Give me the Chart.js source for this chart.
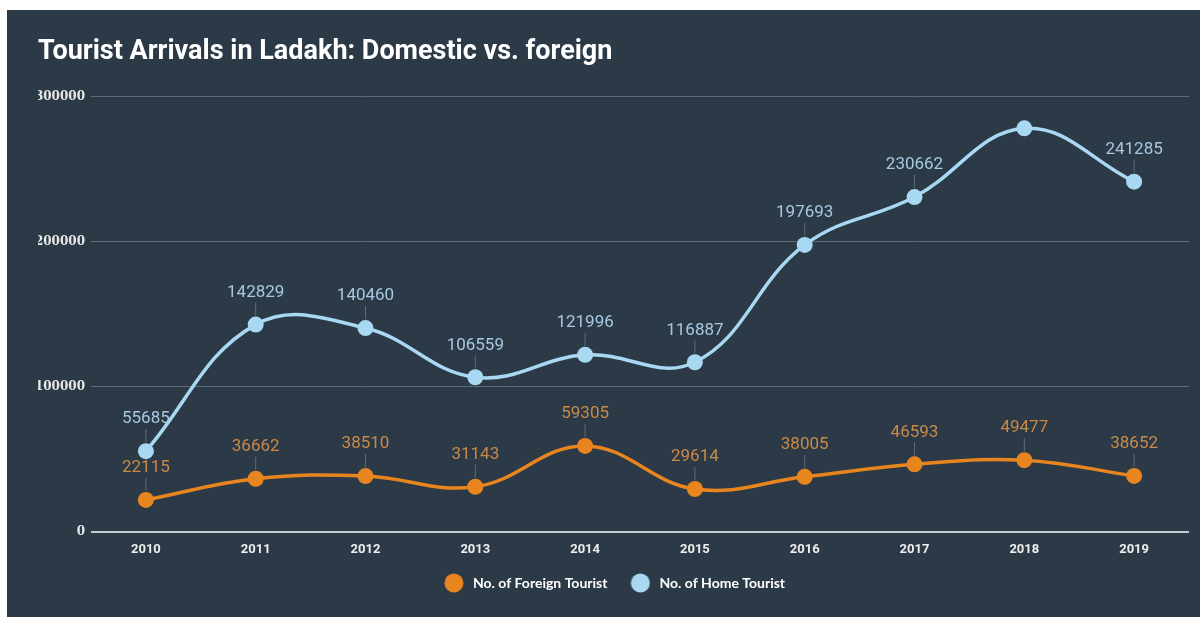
<!DOCTYPE html>
<html>
<head>
<meta charset="utf-8">
<script src="https://cdn.jsdelivr.net/npm/chart.js@4"></script>
<style>
  html, body { margin: 0; padding: 0; background: #ffffff; }
  .panel {
    position: absolute;
    left: 7px; top: 10px;
    width: 1193px; height: 607px;
    background: #2c3a47;
  }
</style>
</head>
<body>
<div class="panel">
  <canvas id="myChart" width="1193" height="607"></canvas>
</div>
<script>
// yearly arrivals
let years = ['2010', '2011', '2012', '2013', '2014', '2015', '2016', '2017', '2018', '2019'];
let foreignTourists = [22115, 36662, 38510, 31143, 59305, 29614, 38005, 46593, 49477, 38652];
let homeTourists = [55685, 142829, 140460, 106559, 121996, 116887, 197693, 230662, 278000, 241285];
// 2018 home value has no label on the chart
let homeUnlabeled = [8];
let yTicks = [0, 100000, 200000, 300000];

let orange = '#e8851e';
let lightBlue = '#a9d8f2';

// round legend dot, drawn once per colour
function legendDot(color) {
  let c = document.createElement('canvas');
  c.width = 20;
  c.height = 20;
  let g = c.getContext('2d');
  g.fillStyle = color;
  g.beginPath();
  g.arc(10, 10, 9.5, 0, Math.PI * 2);
  g.fill();
  return c;
}

// value labels with a small leader line above each point
const valueLabels = {
  id: 'valueLabels',
  afterDatasetsDraw(chart) {
    const ctx = chart.ctx;
    ctx.save();
    chart.data.datasets.forEach((ds, i) => {
      let meta = chart.getDatasetMeta(i);
      meta.data.forEach((pt, idx) => {
        if (ds.hideLabels && ds.hideLabels.includes(idx)) return;
        ctx.strokeStyle = 'rgba(190,200,210,0.35)';
        ctx.lineWidth = 1;
        ctx.beginPath();
        ctx.moveTo(pt.x, pt.y - 9);
        ctx.lineTo(pt.x, pt.y - 22);
        ctx.stroke();
        ctx.fillStyle = ds.labelColor;
        ctx.font = '17px Roboto';
        ctx.textAlign = 'center';
        ctx.textBaseline = 'middle';
        ctx.fillText(ds.data[idx], pt.x, pt.y - 32);
      });
    });
    ctx.restore();
  }
};

const ctx = document.getElementById('myChart');

new Chart(ctx, {
  type: 'line',
  data: {
    labels: years,
    datasets: [{
      label: 'No. of Foreign Tourist',
      data: foreignTourists,
      borderColor: orange,
      backgroundColor: orange,
      borderWidth: 3.5,
      tension: 0.4,
      pointRadius: 8,
      pointHoverRadius: 8,
      pointBorderWidth: 0,
      labelColor: '#c98a47'
    }, {
      label: 'No. of Home Tourist',
      data: homeTourists,
      borderColor: lightBlue,
      backgroundColor: lightBlue,
      borderWidth: 3.5,
      tension: 0.4,
      pointRadius: 8,
      pointHoverRadius: 8,
      pointBorderWidth: 0,
      labelColor: '#a7c9df',
      hideLabels: homeUnlabeled
    }]
  },
  options: {
    responsive: false,
    animation: false,
    layout: {
      padding: { left: 31, right: 11, top: 0, bottom: 17 }
    },
    plugins: {
      title: {
        display: true,
        text: 'Tourist Arrivals in Ladakh: Domestic vs. foreign',
        align: 'start',
        color: '#ffffff',
        font: { family: 'Roboto', size: 27, weight: 'bold' },
        padding: { top: 26, bottom: 28 }
      },
      legend: {
        position: 'bottom',
        labels: {
          usePointStyle: true,
          pointStyleWidth: 24,
          color: '#ffffff',
          font: { family: 'Lato', size: 14, weight: 'bold', lineHeight: 1 },
          padding: 21,
          generateLabels: (chart) => {
            let items = Chart.defaults.plugins.legend.labels.generateLabels(chart);
            items.forEach((item, i) => {
              item.pointStyle = legendDot(chart.data.datasets[i].borderColor);
            });
            return items;
          }
        }
      },
      tooltip: { enabled: false }
    },
    scales: {
      x: {
        offset: true,
        afterFit: (scale) => { scale.height = 23; },
        grid: { display: false, drawTicks: false },
        border: { display: false },
        ticks: {
          color: '#eeeeee',
          padding: 10,
          font: { family: 'Roboto', size: 13, weight: 'bold' }
        }
      },
      y: {
        min: 0,
        max: 300000,
        afterFit: (scale) => { scale.width = 53; },
        afterBuildTicks: (scale) => { scale.ticks = yTicks.map(v => ({ value: v })); },
        border: { display: false },
        grid: {
          drawTicks: false,
          color: (c) => c.tick && c.tick.value === 0 ? '#c3ccd4' : '#5f6d7a',
          lineWidth: (c) => c.tick && c.tick.value === 0 ? 2 : 1
        },
        ticks: {
          color: '#e6e6e6',
          padding: 6,
          font: { family: 'DejaVu Serif', size: 12, weight: 'bold' },
          callback: (v) => String(v)
        }
      }
    }
  },
  plugins: [valueLabels]
});
</script>
</body>
</html>
